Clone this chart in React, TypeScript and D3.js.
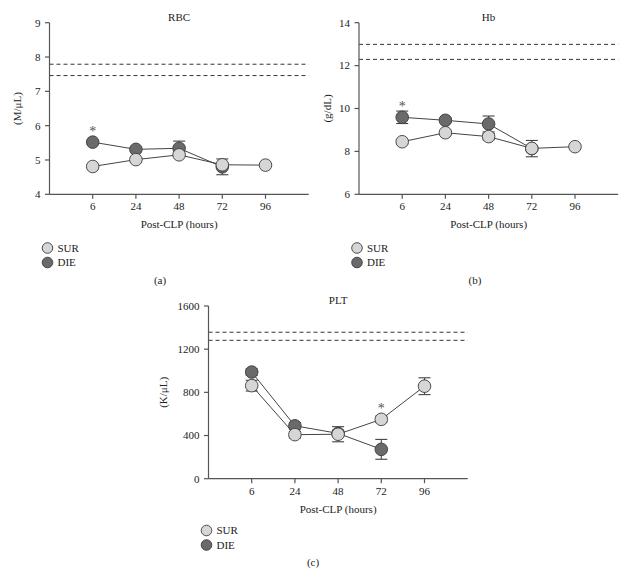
import React from "react";
import * as d3 from "d3";

const hours = ["6", "24", "48", "72", "96"];

const rbcSur = [4.81, 5.01, 5.15, 4.86, 4.85];
const rbcSurErr = [0.04, 0.04, 0.05, 0.05, 0.04];
const rbcDie = [5.52, 5.31, 5.34, 4.8];
const rbcDieErr = [0.05, 0.05, 0.21, 0.23];
const rbcRef = [7.79, 7.46];
const rbcTicks = [4, 5, 6, 7, 8, 9];

const hbSur = [8.45, 8.87, 8.69, 8.14, 8.22];
const hbSurErr = [0.1, 0.1, 0.15, 0.1, 0.08];
const hbDie = [9.59, 9.45, 9.28, 8.13];
const hbDieErr = [0.29, 0.1, 0.37, 0.38];
const hbRef = [12.99, 12.29];
const hbTicks = [6, 8, 10, 12, 14];

const pltSur = [862, 408, 412, 550, 857];
const pltSurErr = [50, 30, 70, 30, 78];
const pltDie = [988, 490, 420, 272];
const pltDieErr = [30, 30, 30, 92];
const pltRef = [1357, 1282];
const pltTicks = [0, 400, 800, 1200, 1600];

const FONT = "'Liberation Serif', 'Times New Roman', serif";
const LIGHT = "#d6d6d6";
const DARK = "#6a6a6a";
const STROKE = "#3c3c3c";
const AXIS = "#555";

type PanelProps = {
  x0: number;
  yTop: number;
  yBottom: number;
  title: string;
  yLabel: string;
  ticks: number[];
  sur: number[];
  surErr: number[];
  die: number[];
  dieErr: number[];
  refs: number[];
  star: { series: "sur" | "die"; idx: number };
  letter: string;
  letterX: number;
  legendY: number;
  yLabelX: number;
};

function Panel(p: PanelProps) {
  const ext = d3.extent(p.ticks) as [number, number];
  const y = d3.scaleLinear().domain(ext).range([p.yBottom, p.yTop]);
  const x = d3.scaleLinear().domain([-1, 5]).range([p.x0, p.x0 + 6 * 43.2]);
  const xEnd = x(5);
  const r = 6.3;
  const line = d3
    .line<number>()
    .x((_, i) => x(i))
    .y((d) => y(d));

  const errBars = (vals: number[], errs: number[], key: string) =>
    vals.map((v, i) => {
      const cx = x(i);
      const t = y(v + errs[i]);
      const b = y(v - errs[i]);
      return (
        <g key={key + i} stroke="#444" strokeWidth={1.1}>
          <line x1={cx} x2={cx} y1={t} y2={b} />
          <line x1={cx - 6} x2={cx + 6} y1={t} y2={t} />
          <line x1={cx - 6} x2={cx + 6} y1={b} y2={b} />
        </g>
      );
    });

  const starVal = p.star.series === "sur" ? p.sur[p.star.idx] : p.die[p.star.idx];
  const midX = (p.x0 + xEnd) / 2;

  return (
    <g fontFamily={FONT} fill="#222">
      <text x={x(2)} y={p.yTop - 2} textAnchor="middle" fontSize={11}>
        {p.title}
      </text>
      {p.refs.map((v, i) => (
        <line
          key={"ref" + i}
          x1={p.x0}
          x2={xEnd}
          y1={y(v)}
          y2={y(v)}
          stroke="#333"
          strokeWidth={1}
          strokeDasharray="4,3"
        />
      ))}
      <line x1={p.x0} x2={p.x0} y1={p.yTop} y2={p.yBottom} stroke={AXIS} strokeWidth={1.2} />
      {p.ticks.map((t) => (
        <g key={"yt" + t}>
          <line x1={p.x0 - 4.5} x2={p.x0} y1={y(t)} y2={y(t)} stroke={AXIS} strokeWidth={1.2} />
          <text x={p.x0 - 9} y={y(t)} dy="0.35em" textAnchor="end" fontSize={11}>
            {t}
          </text>
        </g>
      ))}
      <line x1={p.x0} x2={xEnd} y1={p.yBottom} y2={p.yBottom} stroke={AXIS} strokeWidth={1.2} />
      {hours.map((h, i) => (
        <g key={"xt" + h}>
          <line x1={x(i)} x2={x(i)} y1={p.yBottom} y2={p.yBottom + 4.5} stroke={AXIS} strokeWidth={1.2} />
          <text x={x(i)} y={p.yBottom + 16} textAnchor="middle" fontSize={11}>
            {h}
          </text>
        </g>
      ))}
      <text x={midX} y={p.yBottom + 34} textAnchor="middle" fontSize={11}>
        Post-CLP (hours)
      </text>
      <text
        transform={`translate(${p.yLabelX},${(p.yTop + p.yBottom) / 2}) rotate(-90)`}
        textAnchor="middle"
        fontSize={11}
        dy="0.35em"
      >
        {p.yLabel}
      </text>
      {errBars(p.die, p.dieErr, "de")}
      {errBars(p.sur, p.surErr, "se")}
      <path d={line(p.die) || ""} fill="none" stroke="#444" strokeWidth={1} />
      <path d={line(p.sur) || ""} fill="none" stroke="#444" strokeWidth={1} />
      {p.die.map((v, i) => (
        <circle key={"dc" + i} cx={x(i)} cy={y(v)} r={r} fill={DARK} stroke={STROKE} strokeWidth={0.9} />
      ))}
      {p.sur.map((v, i) => (
        <circle key={"sc" + i} cx={x(i)} cy={y(v)} r={r} fill={LIGHT} stroke={STROKE} strokeWidth={0.9} />
      ))}
      <text
        x={x(p.star.idx)}
        y={y(starVal) - 6}
        textAnchor="middle"
        fontSize={14}
        fill="#555"
        style={{ WebkitFontSmoothing: "antialiased" }}
      >
        *
      </text>
      <circle cx={p.x0 - 2} cy={p.legendY} r={5.3} fill={LIGHT} stroke={STROKE} strokeWidth={0.9} />
      <text x={p.x0 + 8} y={p.legendY} dy="0.35em" fontSize={11}>
        SUR
      </text>
      <circle cx={p.x0 - 2} cy={p.legendY + 14.5} r={5.3} fill={DARK} stroke={STROKE} strokeWidth={0.9} />
      <text x={p.x0 + 8} y={p.legendY + 14.5} dy="0.35em" fontSize={11}>
        DIE
      </text>
      <text x={p.letterX} y={p.legendY + 32} dy="0.35em" textAnchor="middle" fontSize={11}>
        {p.letter}
      </text>
    </g>
  );
}

export default function App() {
  return (
    <svg
      width={644}
      height={574}
      style={{ position: "absolute", left: 0, top: 0, background: "#fff" }}
    >
      <rect width={644} height={574} fill="#fff" />
      <Panel
        x0={49.5}
        yTop={22.7}
        yBottom={194.3}
        title="RBC"
        yLabel="(M/μL)"
        ticks={rbcTicks}
        sur={rbcSur}
        surErr={rbcSurErr}
        die={rbcDie}
        dieErr={rbcDieErr}
        refs={rbcRef}
        star={{ series: "die", idx: 0 }}
        letter="(a)"
        letterX={160}
        legendY={248}
        yLabelX={17}
      />
      <Panel
        x0={359}
        yTop={22.7}
        yBottom={194.3}
        title="Hb"
        yLabel="(g/dL)"
        ticks={hbTicks}
        sur={hbSur}
        surErr={hbSurErr}
        die={hbDie}
        dieErr={hbDieErr}
        refs={hbRef}
        star={{ series: "die", idx: 0 }}
        letter="(b)"
        letterX={475}
        legendY={248}
        yLabelX={327}
      />
      <Panel
        x0={208.5}
        yTop={306}
        yBottom={478.7}
        title="PLT"
        yLabel="(K/μL)"
        ticks={pltTicks}
        sur={pltSur}
        surErr={pltSurErr}
        die={pltDie}
        dieErr={pltDieErr}
        refs={pltRef}
        star={{ series: "sur", idx: 3 }}
        letter="(c)"
        letterX={313}
        legendY={530.5}
        yLabelX={163}
      />
    </svg>
  );
}
